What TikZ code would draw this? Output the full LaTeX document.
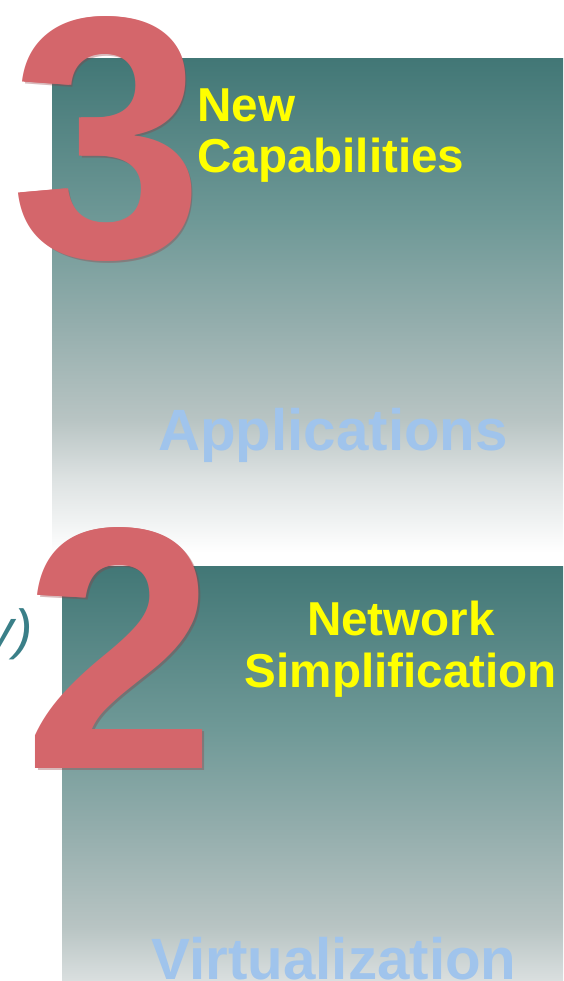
\documentclass[tikz,border=0pt]{standalone}
\usepackage{fontspec}
\setmainfont{Liberation Sans}
\definecolor{pnlA}{HTML}{427776}
\definecolor{pnlB}{HTML}{6F9997}
\definecolor{pnlC}{HTML}{93ADAC}
\definecolor{pnlD}{HTML}{B8C4C3}
\definecolor{pnlE}{HTML}{DDE2E2}
\definecolor{capyellow}{HTML}{FFFF00}
\definecolor{layerblue}{HTML}{A0C4EC}
\definecolor{numred}{HTML}{D4666B}
\definecolor{numshade}{HTML}{8E3A40}
\definecolor{cutteal}{HTML}{3A7F88}
\pgfdeclareverticalshading{panelshade}{100bp}{color(0bp)=(white); color(25bp)=(white); color(32.5bp)=(pnlE); color(38.5bp)=(pnlD); color(48.5bp)=(pnlC); color(58.5bp)=(pnlB); color(75bp)=(pnlA); color(100bp)=(pnlA)}
\begin{document}
\begin{tikzpicture}[x=1pt,y=1pt,
  panel/.style={shading=panelshade, inner sep=0, outer sep=0, anchor=north west, minimum height=494pt},
  captxt/.style={inner sep=0, text=capyellow, font=\fontsize{47.6}{50}\selectfont\bfseries},
  layertxt/.style={inner sep=0, text=layerblue, font=\fontsize{58.3}{60}\selectfont\bfseries},
  cuttxt/.style={inner sep=0, text=cutteal, font=\fontsize{55}{58}\selectfont\itshape},
  numtxt/.style={inner sep=0, text=numred, font=\fontsize{345}{345}\selectfont\bfseries},
  numshadow/.style={inner sep=0, text=numshade, opacity=0.35, font=\fontsize{345}{345}\selectfont\bfseries}
]
\useasboundingbox (0,0) rectangle (563,-981);
\clip (0,0) rectangle (563,-981);
% panels
\node[panel, minimum width=511pt] (toppanel) at (52,-59) {};
\node[panel, minimum width=501pt] (botpanel) at (62,-566) {};
% cut-off text at the left edge
\node[cuttxt, anchor=base east] (cut) at (33,-648) {y)};
% panel texts
\node[captxt, anchor=base west] (capA) at (197,-122) {New};
\node[captxt, anchor=base west] (capB) at (197,-173) {Capabilities};
\node[captxt, anchor=base] (netA) at (401,-635) {Network};
\node[captxt, anchor=base] (netB) at (401,-687) {Simplification};
\node[layertxt, anchor=base] (app) at (333,-450) {Applications};
\node[layertxt, anchor=base] (virt) at (334,-979) {Virtualization};
% numerals
\node[numshadow] (threesh) at (109.5,-140.5) {3};
\node[numtxt] (threeb) at (106.5,-138.5) {3};
\node[numtxt] (three) at (108,-138.5) {3};
\node[numshadow] (twosh) at (122,-650.5) {2};
\node[numtxt] (twob) at (119,-648.5) {2};
\node[numtxt] (two) at (120.5,-648.5) {2};
\end{tikzpicture}
\end{document}
